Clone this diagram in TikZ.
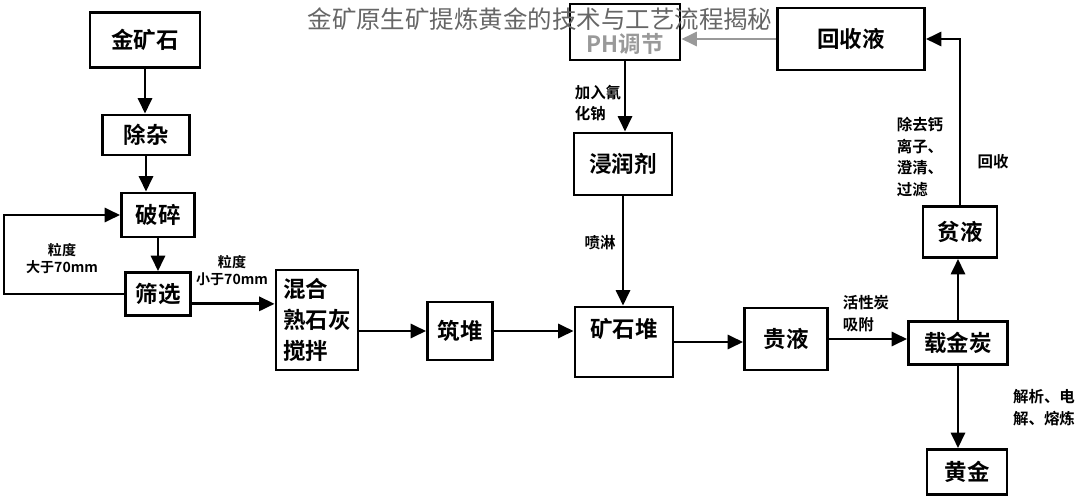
\documentclass[tikz,border=0pt]{standalone}
\usepackage{fontspec}
\setmainfont{Noto Sans CJK SC}[BoldFont=* Bold]
\usetikzlibrary{arrows.meta}

\begin{document}
\begin{tikzpicture}[-,>={Triangle[length=11pt,width=10pt]},x=0.025cm,y=-0.025cm,line width=2pt,main node/.style={draw,rectangle,inner sep=2pt,font=\bfseries\fontsize{16}{22}\selectfont},note/.style={inner sep=0pt,align=left,font=\bfseries\fontsize{11}{15.5}\selectfont}]
            \useasboundingbox (0,0) rectangle (1083,500);

            \node[main node, minimum width=2.75cm, minimum height=1.375cm] (0) at (145,40) {金矿石};
            \node[main node, minimum width=2.175cm, minimum height=1cm] (1) at (146,135) {除杂};
            \node[main node, minimum width=1.825cm, minimum height=1.1cm] (2) at (158,215) {破碎};
            \node[main node, minimum width=1.625cm, minimum height=1.075cm] (3) at (158,294) {筛选};
            \node[main node, minimum width=2.05cm, minimum height=2.5cm, align=left] (4) at (317,320) {混合\\熟石灰\\搅拌};
            \node[main node, minimum width=1.625cm, minimum height=1.45cm] (5) at (460,331) {筑堆};
            \node[main node, minimum width=2.45cm, minimum height=1.75cm, text depth=0.7cm] (6) at (624,342) {矿石堆};
            \node[main node, minimum width=2.075cm, minimum height=1.55cm] (7) at (786,339) {贵液};
            \node[main node, minimum width=2.475cm, minimum height=1.075cm] (8) at (958,343) {载金炭};
            \node[main node, minimum width=2cm, minimum height=1.125cm] (9) at (967,472) {黄金};
            \node[main node, minimum width=1.85cm, minimum height=1.275cm] (10) at (960,232) {贫液};
            \node[main node, minimum width=3.675cm, minimum height=1.55cm] (11) at (851,39) {回收液};
            \node[main node, minimum width=2.75cm, minimum height=1.4cm, text height=1.05cm, text=black!40] (12) at (625,32) {PH调节};
            \node[main node, minimum width=2.45cm, minimum height=1.55cm] (13) at (623,164) {浸润剂};

            \node[note, align=center, font=\bfseries\fontsize{10}{12}\selectfont] (14) at (62,259) {粒度\\大于70mm};
            \node[note, align=center, font=\bfseries\fontsize{10}{12}\selectfont] (15) at (232,271) {粒度\\小于70mm};
            \node[note] (16) at (598,103) {加入氰\\化钠};
            \node[note] (17) at (600,243) {喷淋};
            \node[note] (18) at (866,314) {活性炭\\吸附};
            \node[note] (19) at (920,157) {除去钙\\离子、\\澄清、\\过滤};
            \node[note] (20) at (993,162) {回收};
            \node[note] (21) at (1044,408) {解析、电\\解、熔炼};

            \path[->]
                (0.south) edge (0.south |- 1.north)
                (1.south) edge (1.south |- 2.north)
                (2.south) edge (2.south |- 3.north)
                ([yshift=-7pt]3.east) edge ([yshift=-7pt]3.east -| 4.west)
                (5.west -| 4.east) edge (5.west)
                (5.east) edge (5.east -| 6.west)
                (6.east) edge (6.east -| 7.west)
                (7.east) edge (7.east -| 8.west)
                (8.north) edge (8.north |- 10.south)
                (8.south) edge (8.south |- 9.north)
                (12.south) edge (12.south |- 13.north)
                (13.south) edge (13.south |- 6.north)
                ;
            \draw[->] (3.west) -- ++(-120,0) |- (2.west);
            \draw[->] (10.north) |- (11.east);
            \draw[->, black!40] (11.west) -- (11.west -| 12.east);

            \node[font=\fontsize{17.4}{20}\selectfont, text=black!60] (22) at (540,19) {金矿原生矿提炼黄金的技术与工艺流程揭秘};
        \end{tikzpicture}
\end{document}
